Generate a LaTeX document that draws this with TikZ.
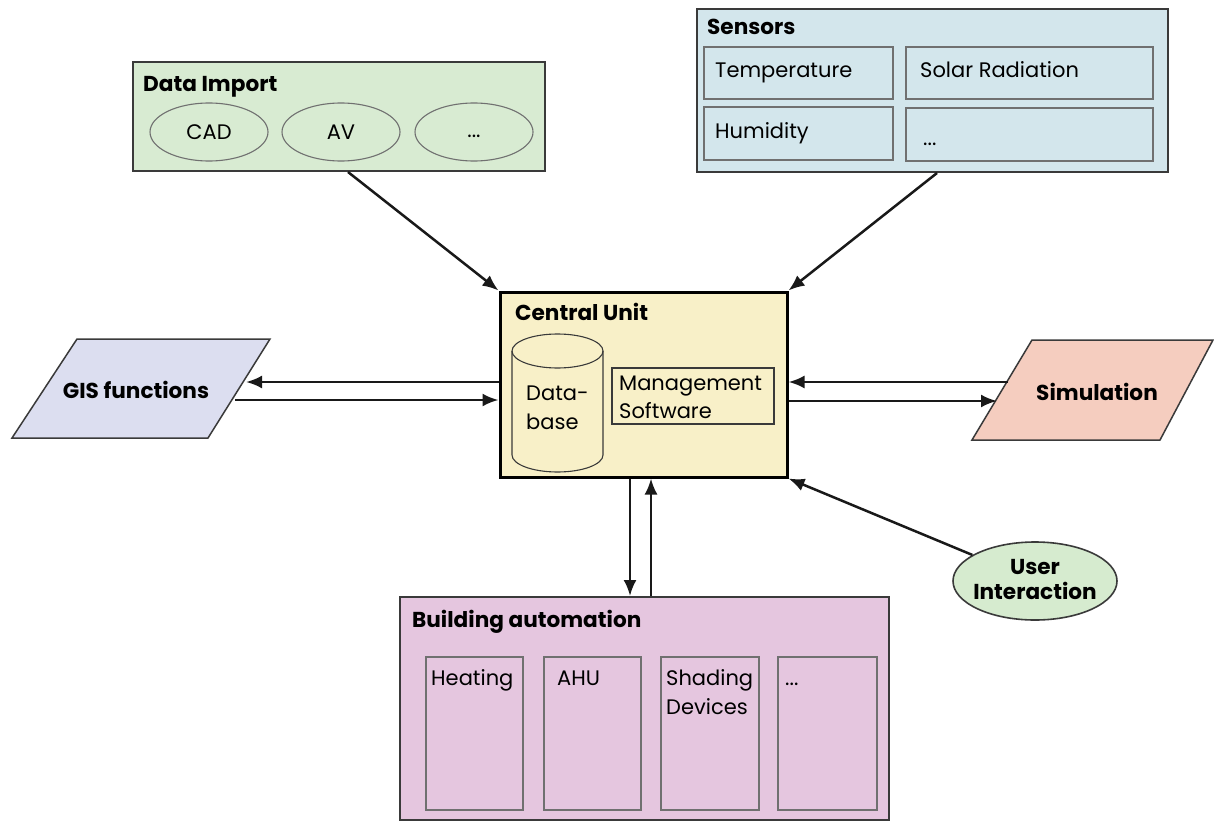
\documentclass[tikz,border=0pt]{standalone}
\usepackage{fontspec}
\setmainfont{Poppins}
\usetikzlibrary{arrows.meta,shapes.geometric}
\definecolor{impfill}{HTML}{D8EBD2}
\definecolor{sensfill}{HTML}{D3E6EC}
\definecolor{cufill}{HTML}{F8F0C8}
\definecolor{gisfill}{HTML}{DCDEF0}
\definecolor{simfill}{HTML}{F5CDBF}
\definecolor{bafill}{HTML}{E5C6DF}
\definecolor{uifill}{HTML}{D6EBCF}
\definecolor{edge}{HTML}{3A3A3A}
\definecolor{inedge}{HTML}{707070}
\tikzset{
  outerbox/.style={draw=edge, line width=2pt, rectangle, inner sep=0pt},
  innerbox/.style={draw=inedge, line width=1.3pt, rectangle, inner sep=0pt},
  oval/.style={draw=inedge, line width=1.1pt, ellipse, inner sep=0pt},
  title/.style={anchor=base west, inner sep=0pt, font=\fontsize{21.6}{25}\selectfont\bfseries},
  txt/.style={anchor=base west, inner sep=0pt, font=\fontsize{21}{25}\selectfont},
  ctxt/.style={inner sep=0pt, font=\fontsize{21}{25}\selectfont, align=center},
  arr/.style={draw=black!90, line width=2.5pt, -{Latex[length=16pt,width=13pt]}}
}
\begin{document}
\begin{tikzpicture}[x=1pt,y=-1pt]
\useasboundingbox (0,0) rectangle (1214,821);
\fill[white] (0,0) rectangle (1214,821);

% Data Import
\node[outerbox, fill=impfill, minimum width=412, minimum height=109] (imp) at (339,116.5) {};
\node[title] (impt) at (143,92) {Data Import};
\node[oval, fill=impfill, minimum width=118, minimum height=58] (cad) at (209,132) {};
\node[ctxt] (cadt) at (209,132) {CAD};
\node[oval, fill=impfill, minimum width=118, minimum height=58] (av) at (341,132) {};
\node[ctxt] (avt) at (341,132) {AV};
\node[oval, fill=impfill, minimum width=118, minimum height=58] (dots1) at (474,132) {};
\node[ctxt] (dots1t) at (474,136) {...};

% Sensors
\node[outerbox, fill=sensfill, minimum width=471, minimum height=163] (sens) at (932.5,90.5) {};
\node[title] (senst) at (707,35) {Sensors};
\node[innerbox, minimum width=189, minimum height=52] (temp) at (798.5,73) {};
\node[txt] (tempt) at (715,78) {Temperature};
\node[innerbox, minimum width=247, minimum height=52] (solar) at (1029.5,73) {};
\node[txt] (solart) at (920,78) {Solar Radiation};
\node[innerbox, minimum width=189, minimum height=53] (hum) at (798.5,133.5) {};
\node[txt] (humt) at (715,139) {Humidity};
\node[innerbox, minimum width=247, minimum height=53] (sdots) at (1029.5,134.5) {};
\node[txt] (sdotst) at (923,146) {...};

% Central Unit
\node[draw=black, line width=3pt, fill=cufill, rectangle, inner sep=0pt, minimum width=287, minimum height=185] (cu) at (643.5,384.5) {};
\node[title] (cut) at (515,320) {Central Unit};
\draw[draw=edge, line width=1.1pt] (512,351) -- (512,455) arc[start angle=180, end angle=0, x radius=45.5, y radius=17] -- (603,351);
\draw[draw=edge, line width=1.1pt] (557.5,351) ellipse[x radius=45.5, y radius=17];
\node[txt] (db1) at (526,400) {Data-};
\node[txt] (db2) at (526,429) {base};
\node[innerbox, draw=edge, line width=1.1pt, minimum width=162, minimum height=56] (ms) at (693,396) {};
\node[txt] (ms1) at (619,390) {Management};
\node[txt] (ms2) at (619,418) {Software};

% GIS functions
\filldraw[fill=gisfill, draw=edge, line width=1.5pt] (77,339) -- (270,339) -- (208,438) -- (12,438) -- cycle;
\node[ctxt, font=\fontsize{21.6}{25}\selectfont\bfseries] (gis) at (136,390) {GIS functions};
\coordinate (gisA) at (246,382);
\coordinate (gisB) at (235,400);

% Simulation
\filldraw[fill=simfill, draw=edge, line width=1.5pt] (1032,340) -- (1213,340) -- (1160,440) -- (972,440) -- cycle;
\node[ctxt, font=\fontsize{21.6}{25}\selectfont\bfseries] (sim) at (1097,392) {Simulation};
\coordinate (simA) at (1008,382);
\coordinate (simB) at (997,401);

% Building automation
\node[outerbox, fill=bafill, minimum width=489, minimum height=223] (ba) at (644.5,708.5) {};
\node[title] (bat) at (412,627) {Building automation};
\node[innerbox, minimum width=97, minimum height=153] (heat) at (474.5,733.5) {};
\node[txt] (heatt) at (431,685) {Heating};
\node[innerbox, minimum width=97, minimum height=153] (ahu) at (592.5,733.5) {};
\node[txt] (ahut) at (557,685) {AHU};
\node[innerbox, minimum width=98, minimum height=153] (shade) at (710,733.5) {};
\node[txt] (shadet) at (666,685) {Shading};
\node[txt] (shadet2) at (666,714) {Devices};
\node[innerbox, minimum width=99, minimum height=153] (bdots) at (827.5,733.5) {};
\node[txt] (bdotst) at (785,685) {...};

% User Interaction
\node[oval, draw=edge, line width=1.6pt, fill=uifill, minimum width=164, minimum height=78] (ui) at (1035,581) {};
\node[ctxt, font=\fontsize{21.6}{25}\selectfont\bfseries] (uit) at (1035,579) {User\\Interaction};

% Connectors
\draw[arr] ([xshift=9pt]imp.south) -- (cu.north west);
\draw[arr] ([xshift=4.5pt]sens.south) -- (cu.north east);
\draw[arr] (cu.west |- gisA) -- (gisA);
\draw[arr] (gisB) -- (cu.west |- gisB);
\draw[arr] (simA) -- (cu.east |- simA);
\draw[arr] (cu.east |- simB) -- (simB);
\draw[arr] ([xshift=-13.5pt]cu.south) -- ([xshift=-13.5pt]cu.south |- ba.north);
\draw[arr] ([xshift=7.5pt]cu.south |- ba.north) -- ([xshift=7.5pt]cu.south);
\draw[arr] (ui) -- (cu.south east);
\end{tikzpicture}
\end{document}
